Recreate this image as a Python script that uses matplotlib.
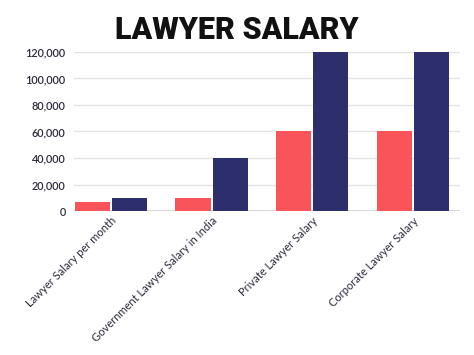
import matplotlib
matplotlib.use("Agg")
import matplotlib.pyplot as plt
import numpy as np
from matplotlib.ticker import FuncFormatter

# chart data
categories = ["Lawyer Salary per month", "Government Lawyer Salary in India",
              "Private Lawyer Salary", "Corporate Lawyer Salary"]
low_values = [7000, 10000, 60000, 60000]
high_values = [10000, 40000, 120000, 120000]
y_ticks = [0, 20000, 40000, 60000, 80000, 100000, 120000]

red = "#f8545a"
navy = "#2c2f6b"

fig = plt.figure(figsize=(4.74, 3.55), dpi=100)
ax = fig.add_axes([0.156, 0.4056, 0.814, 0.448])

x = np.arange(len(categories))
w = 0.35
ax.bar(x - 0.185, low_values, w, color=red, zorder=3)
ax.bar(x + 0.185, high_values, w, color=navy, zorder=3)

ax.set_xlim(-0.367, 3.466)
ax.set_ylim(0, 120000)
ax.set_yticks(y_ticks)
ax.yaxis.set_major_formatter(FuncFormatter(lambda v, p: f"{int(v):,}"))
ax.grid(axis="y", color="#e4e4e4", linewidth=1, zorder=0)
ax.axhline(0, color="#cfcfcf", linewidth=1.2, zorder=2)
for s in ax.spines.values():
    s.set_visible(False)

ax.tick_params(axis="both", length=0)
ax.tick_params(axis="y", pad=6, labelsize=7.8, labelcolor="#2a2a3a")
ax.tick_params(axis="x", pad=3)
ax.set_xticks(x + 0.0)
ax.set_xticklabels(categories, rotation=45, ha="right", rotation_mode="anchor",
                   fontsize=8, color="#2a2a3a", family="Lato")
for lab in ax.get_yticklabels():
    lab.set_family("Lato")
    lab.set_fontweight("semibold")

fig.text(0.5, 0.915, "LAWYER SALARY", ha="center", va="center",
         fontsize=22, fontweight="black", family="Roboto",
         color="#111111")

fig.savefig("out.png", dpi=100)
